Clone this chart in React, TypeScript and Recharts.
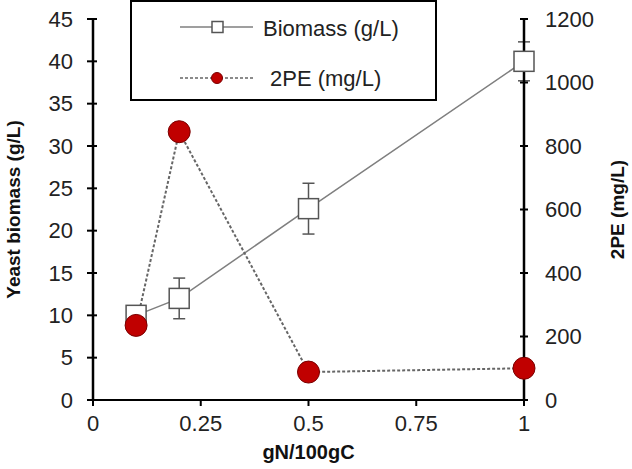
import { ComposedChart, Line, XAxis, YAxis, ErrorBar, Legend } from 'recharts'

const nRatio = [0.1, 0.2, 0.5, 1]
const biomass = [10, 12, 22.6, 40]
const biomassErr = [0, 2.4, 3, 2.3]
const pe2 = [235, 845, 88, 100]

const xTicks = [0, 0.25, 0.5, 0.75, 1]
const leftTicks = [0, 5, 10, 15, 20, 25, 30, 35, 40, 45]
const rightTicks = [0, 200, 400, 600, 800, 1000, 1200]

const data = nRatio.map((x, i) => ({ x, biomass: biomass[i], biomassErr: biomassErr[i], pe: pe2[i] }))

const FONT = '"Liberation Sans", Arial, sans-serif'
const MARGIN = 12

function LeftTick({ x, y, payload }: any) {
  const ax = x + MARGIN
  return (
    <g>
      <line x1={ax - 6} x2={ax + 4} y1={y} y2={y} stroke="#000" strokeWidth={2} />
      <text x={ax - 20} y={y} textAnchor="end" dominantBaseline="central" fontSize={22} fill="#222" fontFamily={FONT}>
        {payload.value}
      </text>
    </g>
  )
}

function RightTick({ x, y, payload }: any) {
  const ax = x - MARGIN
  return (
    <g>
      <line x1={ax - 4} x2={ax + 4} y1={y} y2={y} stroke="#000" strokeWidth={2} />
      <text x={ax + 21} y={y} textAnchor="start" dominantBaseline="central" fontSize={22} fill="#222" fontFamily={FONT}>
        {payload.value}
      </text>
    </g>
  )
}

function Square({ cx, cy, index }: any) {
  return <rect key={`sq-${index}`} x={cx - 10} y={cy - 10} width={20} height={20} fill="#fff" stroke="#555" strokeWidth={1.5} />
}

function RedDot({ cx, cy, index }: any) {
  return <circle key={`rd-${index}`} cx={cx} cy={cy} r={11} fill="#c00000" stroke="#7a0000" strokeWidth={1} />
}

function LegendBox() {
  return (
    <div style={{ width: 307, height: 101, boxSizing: 'border-box', border: '2px solid #000', background: '#fff' }}>
      <svg width={303} height={97} style={{ display: 'block' }}>
        <line x1={48} x2={121} y1={25} y2={25} stroke="#7f7f7f" strokeWidth={1.5} />
        <rect x={80} y={19.5} width={11} height={11} fill="#fff" stroke="#555" strokeWidth={1.5} />
        <text x={131} y={26} dominantBaseline="central" fontSize={22} fill="#222" fontFamily={FONT}>Biomass (g/L)</text>
        <line x1={48} x2={121} y1={76} y2={76} stroke="#666" strokeWidth={1.5} strokeDasharray="3 2" />
        <circle cx={85} cy={76} r={5.5} fill="#c00000" stroke="#7a0000" />
        <text x={138} y={76} dominantBaseline="central" fontSize={22} fill="#222" fontFamily={FONT}>2PE (mg/L)</text>
      </svg>
    </div>
  )
}

export default function App() {
  return (
    <div style={{ position: 'absolute', left: 0, top: 0, background: '#fff' }}>
      <ComposedChart width={632} height={469} data={data} margin={{ top: 19, right: 0, bottom: 0, left: 0 }}>
        <XAxis
          type="number"
          dataKey="x"
          domain={[0, 1]}
          ticks={xTicks}
          tickFormatter={(v: number) => String(v)}
          height={69}
          stroke="#000"
          strokeWidth={2}
          tickSize={6}
          tickMargin={9}
          tick={{ fill: '#222', fontSize: 22, fontFamily: FONT }}
          label={{ value: 'gN/100gC', position: 'insideBottom', offset: 10, fill: '#111', fontSize: 20, fontWeight: 'bold', fontFamily: FONT }}
        />
        <YAxis
          yAxisId="left"
          domain={[0, 45]}
          ticks={leftTicks}
          width={93}
          stroke="#000"
          strokeWidth={2.5}
          tickLine={false}
          tickSize={0}
          tickMargin={MARGIN}
          tick={<LeftTick />}
          label={{
            content: ({ viewBox }: any) => (
              <text
                x={viewBox.x + 13}
                y={viewBox.y + viewBox.height / 2}
                transform={`rotate(-90, ${viewBox.x + 13}, ${viewBox.y + viewBox.height / 2})`}
                textAnchor="middle"
                dominantBaseline="central"
                fontSize={19}
                fontWeight="bold"
                fill="#111"
                fontFamily={FONT}
              >
                Yeast biomass (g/L)
              </text>
            ),
          }}
        />
        <YAxis
          yAxisId="right"
          orientation="right"
          domain={[0, 1200]}
          ticks={rightTicks}
          width={108}
          stroke="#000"
          strokeWidth={2.5}
          tickLine={false}
          tickSize={0}
          tickMargin={MARGIN}
          tick={<RightTick />}
          label={{
            content: ({ viewBox }: any) => (
              <text
                x={viewBox.x + 93}
                y={viewBox.y + viewBox.height / 2}
                transform={`rotate(-90, ${viewBox.x + 93}, ${viewBox.y + viewBox.height / 2})`}
                textAnchor="middle"
                dominantBaseline="central"
                fontSize={19}
                fontWeight="bold"
                fill="#111"
                fontFamily={FONT}
              >
                2PE (mg/L)
              </text>
            ),
          }}
        />
        <Legend
          layout="vertical"
          align="center"
          verticalAlign="middle"
          content={() => <LegendBox />}
          wrapperStyle={{ position: 'absolute', left: 130, top: 0, width: 307, height: 101 }}
        />
        <Line
          yAxisId="left"
          dataKey="biomass"
          name="Biomass (g/L)"
          stroke="#7f7f7f"
          strokeWidth={1.5}
          dot={<Square />}
          isAnimationActive={false}
        >
          <ErrorBar dataKey="biomassErr" direction="y" width={6} stroke="#555" strokeWidth={1.5} />
        </Line>
        <Line
          yAxisId="right"
          dataKey="pe"
          name="2PE (mg/L)"
          stroke="#666"
          strokeWidth={2}
          strokeDasharray="3 2"
          dot={<RedDot />}
          isAnimationActive={false}
        />
      </ComposedChart>
    </div>
  )
}
